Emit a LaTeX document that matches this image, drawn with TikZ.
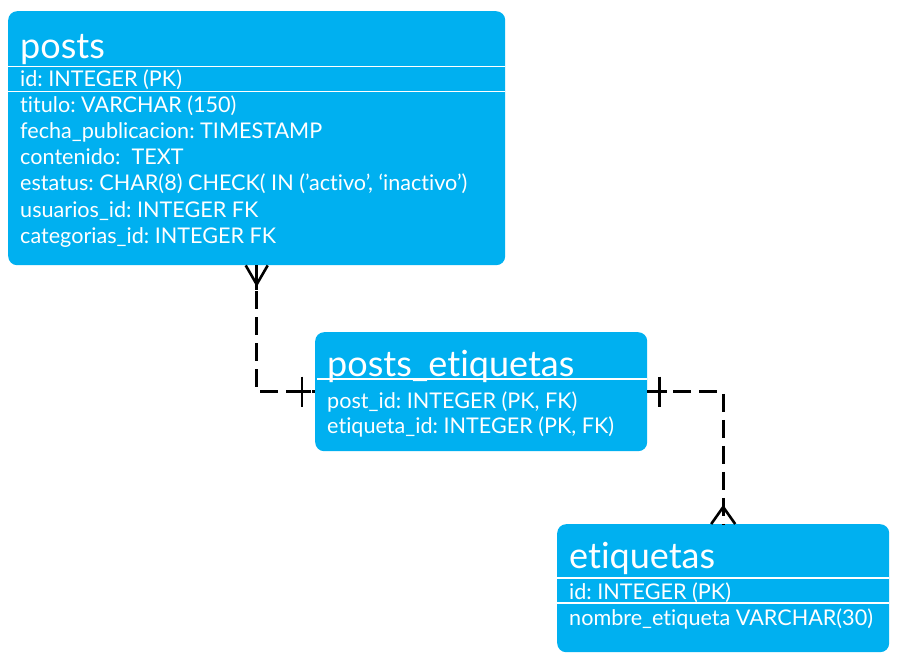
\documentclass[tikz,border=0pt]{standalone}
\usepackage{fontspec}
\setmainfont{Lato}[Ligatures=NoCommon]
\usetikzlibrary{calc}
\definecolor{tbl}{RGB}{0,176,240}
\tikzset{
  tablebox/.style={fill=tbl, draw=none, rounded corners=9pt, inner sep=0pt, anchor=north west},
  ttl/.style={text=white, anchor=base west, inner sep=0pt, font=\fontsize{36}{36}\selectfont},
  fld/.style={text=white, anchor=base west, inner sep=0pt, font=\fontsize{21.6}{21.6}\selectfont\frenchspacing},
  sep/.style={draw=white, line width=1.4pt},
  conn/.style={draw=black, line width=2.6pt, dash pattern=on 18pt off 8pt},
  endmark/.style={draw=black, line width=2.6pt},
}
\begin{document}
\begin{tikzpicture}[x=1pt,y=-1pt]
\useasboundingbox (0,0) rectangle (897,668);
% boxes
\node[tablebox, minimum width=497pt, minimum height=254pt] (posts) at (8,11) {};
\node[tablebox, minimum width=332pt, minimum height=119pt] (pe) at (315,332) {};
\node[tablebox, minimum width=332pt, minimum height=128pt] (et) at (557,524) {};
% posts
\node[ttl] (t1) at (20,59) {posts};
\draw[sep] (posts.west |- 0,66.5) -- (posts.east |- 0,66.5);
\draw[sep] (posts.west |- 0,91.5) -- (posts.east |- 0,91.5);
\node[fld] (p0) at (20,87) {id: INTEGER (PK)};
\node[fld] (p1) at (20,112.5) {titulo: VARCHAR (150)};
\node[fld] (p2) at (20,139) {fecha\_publicacion: TIMESTAMP};
\node[fld] (p3) at (20,165) {contenido:\ \ TEXT};
\node[fld] (p4) at (20,191) {estatus: CHAR(8) CHECK( IN (’activo’, ‘inactivo’)};
\node[fld] (p5) at (20,217.5) {usuarios\_id: INTEGER FK};
\node[fld] (p6) at (20,244) {categorias\_id: INTEGER FK};
% posts_etiquetas
\node[ttl] (t2) at (327,377) {posts\_etiquetas};
\draw[sep] (317,379) -- (pe.east |- 0,379);
\node[fld] (e1) at (327,408) {post\_id: INTEGER (PK, FK)};
\node[fld] (e2) at (327,433) {etiqueta\_id: INTEGER (PK, FK)};
% etiquetas
\node[ttl] (t3) at (569,568) {etiquetas};
\draw[sep] (et.west |- 0,578) -- (et.east |- 0,578);
\draw[sep] (et.west |- 0,603) -- (et.east |- 0,603);
\node[fld] (g1) at (569,599) {id: INTEGER (PK)};
\node[fld] (g2) at (569,625) {nombre\_etiqueta VARCHAR(30)};
% connectors
\draw[conn] (posts.south) |- (pe.west);
\draw[conn] (pe.east) -| (et.north);
% posts end: many
\draw[endmark] ($(posts.south)+(-11,0)$) -- ($(posts.south)+(0,19)$) -- ($(posts.south)+(11,0)$);
\draw[endmark] ($(posts.south)+(0,19)$) -- ($(posts.south)+(0,25)$);
% pe left: one
\draw[endmark] ($(pe.west)+(-13,-15)$) -- ($(pe.west)+(-13,15)$);
\draw[endmark] ($(pe.west)+(-13,0)$) -- ($(pe.west)+(-4,0)$);
% pe right: one
\draw[endmark] ($(pe.east)+(12,-15)$) -- ($(pe.east)+(12,15)$);
\draw[endmark] (pe.east) -- ($(pe.east)+(20,0)$);
% etiquetas end: many
\draw[endmark] ($(et.north)+(-12,0)$) -- ($(et.north)+(0,-17)$) -- ($(et.north)+(12,0)$);
\draw[endmark] ($(et.north)+(0,-17)$) -- ($(et.north)+(0,-24)$);
\end{tikzpicture}
\end{document}
